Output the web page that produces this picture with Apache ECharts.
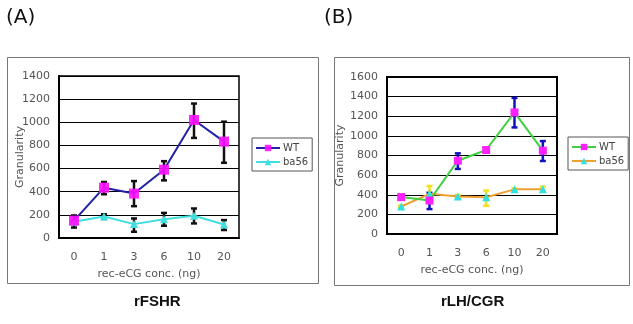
<!DOCTYPE html>
<html>
<head>
<meta charset="utf-8">
<script src="https://cdn.jsdelivr.net/npm/echarts@6/dist/echarts.min.js"></script>
<style>
  html, body { margin: 0; padding: 0; background: #fff; }
  #chart { width: 633px; height: 324px; }
</style>
</head>
<body>
<div id="chart"></div>
<script>
const categories = ["0", "1", "3", "6", "10", "20"];

// (A) rFSHR
const wtA = [150, 435, 384, 590, 1020, 833];
const wtALow = [90, 378, 275, 498, 865, 650];
const wtAHigh = [195, 484, 492, 664, 1162, 1005];
const baA = [140, 185, 120, 163, 192, 117];
const baALow = [130, 165, 54, 106, 126, 69];
const baAHigh = [150, 205, 169, 217, 255, 155];

// (B) rLH/CGR
const wtB = [376, 341, 747, 856, 1239, 849];
const wtBLow = [360, 254, 663, 850, 1086, 744];
const wtBHigh = [390, 420, 822, 862, 1387, 947];
const baB = [280, 409, 382, 375, 455, 455];
const baBLow = [270, 340, 368, 287, 445, 430];
const baBHigh = [290, 490, 398, 443, 465, 483];

const yTicksA = { min: 0, max: 1400, interval: 200 };
const yTicksB = { min: 0, max: 1600, interval: 200 };

const labelFont = { color: "#555", fontSize: 11, fontFamily: "DejaVu Sans" };

function errorBars(color, xi, yi, low, high) {
  return {
    type: "custom",
    xAxisIndex: xi,
    yAxisIndex: yi,
    z: 2,
    silent: true,
    data: categories.map((c, i) => [i, low[i], high[i]]),
    renderItem(params, api) {
      const x = api.value(0);
      const lo = api.coord([x, api.value(1)]);
      const hi = api.coord([x, api.value(2)]);
      const w = 3;
      const style = { stroke: color, lineWidth: 2.5 };
      return {
        type: "group",
        children: [
          { type: "line", shape: { x1: lo[0], y1: lo[1], x2: hi[0], y2: hi[1] }, style },
          { type: "line", shape: { x1: lo[0] - w, y1: lo[1], x2: lo[0] + w, y2: lo[1] }, style },
          { type: "line", shape: { x1: hi[0] - w, y1: hi[1], x2: hi[0] + w, y2: hi[1] }, style }
        ]
      };
    }
  };
}

function xAxis(gi) {
  return {
    type: "category",
    gridIndex: gi,
    data: categories,
    name: "rec-eCG conc. (ng)",
    nameLocation: "middle",
    nameGap: 31,
    nameMoveOverlap: false,
    nameTextStyle: labelFont,
    axisLine: { lineStyle: { color: "#000", width: 2 } },
    axisTick: { inside: true, length: 4, lineStyle: { color: "#000" } },
    axisLabel: { ...labelFont, margin: 14 }
  };
}

function yAxis(gi, t, gap) {
  return {
    type: "value",
    gridIndex: gi,
    min: t.min,
    max: t.max,
    interval: t.interval,
    name: "Granularity",
    nameLocation: "middle",
    nameRotate: 90,
    nameGap: gap,
    nameMoveOverlap: false,
    nameTextStyle: labelFont,
    axisLine: { show: true, lineStyle: { color: "#000", width: 2 } },
    axisTick: { show: false },
    axisLabel: { ...labelFont, margin: 9, formatter: (v) => String(v) },
    splitLine: { lineStyle: { color: "#000", width: 1 } }
  };
}

function legend(names, left, top, width) {
  return {
    data: names,
    orient: "vertical",
    left: left,
    top: top,
    width: width,
    padding: [5, 4, 4, 3],
    itemGap: 4,
    itemWidth: 24,
    itemHeight: 8,
    borderColor: "#555",
    borderWidth: 1,
    backgroundColor: "#fff",
    formatter: (n) => n.split("_")[0],
    textStyle: { color: "#444", fontSize: 10, fontFamily: "DejaVu Sans", padding: [0, 0, 0, -2] }
  };
}

const chart = echarts.init(document.getElementById("chart"), null, { renderer: "canvas" });

chart.setOption({
  backgroundColor: "#fff",
  animation: false,
  graphic: [
    { type: "rect", shape: { x: 7.5, y: 57.5, width: 311, height: 226 }, style: { fill: "none", stroke: "#777", lineWidth: 1 }, z: -1 },
    { type: "rect", shape: { x: 334.5, y: 57.5, width: 295, height: 228 }, style: { fill: "none", stroke: "#777", lineWidth: 1 }, z: -1 },
    { type: "text", left: 6, top: 8, style: { text: "(A)", fontSize: 20, fontFamily: "DejaVu Sans", fill: "#111" } },
    { type: "text", left: 324, top: 8, style: { text: "(B)", fontSize: 20, fontFamily: "DejaVu Sans", fill: "#111" } },
    { type: "text", left: 134, top: 294, style: { text: "rFSHR", fontSize: 15, fontWeight: "bold", fontFamily: "Liberation Sans Narrow, Liberation Sans", fill: "#111" } },
    { type: "text", left: 441, top: 294, style: { text: "rLH/CGR", fontSize: 15, fontWeight: "bold", fontFamily: "Liberation Sans Narrow, Liberation Sans", fill: "#111" } }
  ],
  grid: [
    { left: 59, top: 76, width: 180, height: 162, show: true, backgroundColor: "#fff", borderColor: "#000", borderWidth: 1.5 },
    { left: 387, top: 77, width: 170, height: 157, show: true, backgroundColor: "#fff", borderColor: "#000", borderWidth: 2 }
  ],
  xAxis: [xAxis(0), xAxis(1)],
  yAxis: [yAxis(0, yTicksA, 33), yAxis(1, yTicksB, 41)],
  legend: [
    legend(["WT_A", "ba56_A"], 252, 138, 61),
    legend(["WT_B", "ba56_B"], 568, 137, 64)
  ],
  series: [
    errorBars("#111", 0, 0, wtALow, wtAHigh),
    errorBars("#111", 0, 0, baALow, baAHigh),
    errorBars("#1010c0", 1, 1, wtBLow, wtBHigh),
    errorBars("#f0e020", 1, 1, baBLow, baBHigh),
    {
      name: "ba56_A", type: "line", xAxisIndex: 0, yAxisIndex: 0, z: 3,
      data: baA, symbol: "triangle", symbolSize: 8,
      lineStyle: { color: "#40dede", width: 2 }, itemStyle: { color: "#40dede" }
    },
    {
      name: "WT_A", type: "line", xAxisIndex: 0, yAxisIndex: 0, z: 4,
      data: wtA, symbol: "rect", symbolSize: 10,
      lineStyle: { color: "#2020a8", width: 2 }, itemStyle: { color: "#ff10ff", opacity: 0.9 }
    },
    {
      name: "ba56_B", type: "line", xAxisIndex: 1, yAxisIndex: 1, z: 3,
      data: baB, symbol: "triangle", symbolSize: 8,
      lineStyle: { color: "#f0a030", width: 2 }, itemStyle: { color: "#30e0e0" }
    },
    {
      name: "WT_B", type: "line", xAxisIndex: 1, yAxisIndex: 1, z: 4,
      data: wtB, symbol: "rect", symbolSize: 8,
      lineStyle: { color: "#40d040", width: 2 }, itemStyle: { color: "#ff20ff" }
    }
  ]
});
</script>
</body>
</html>
